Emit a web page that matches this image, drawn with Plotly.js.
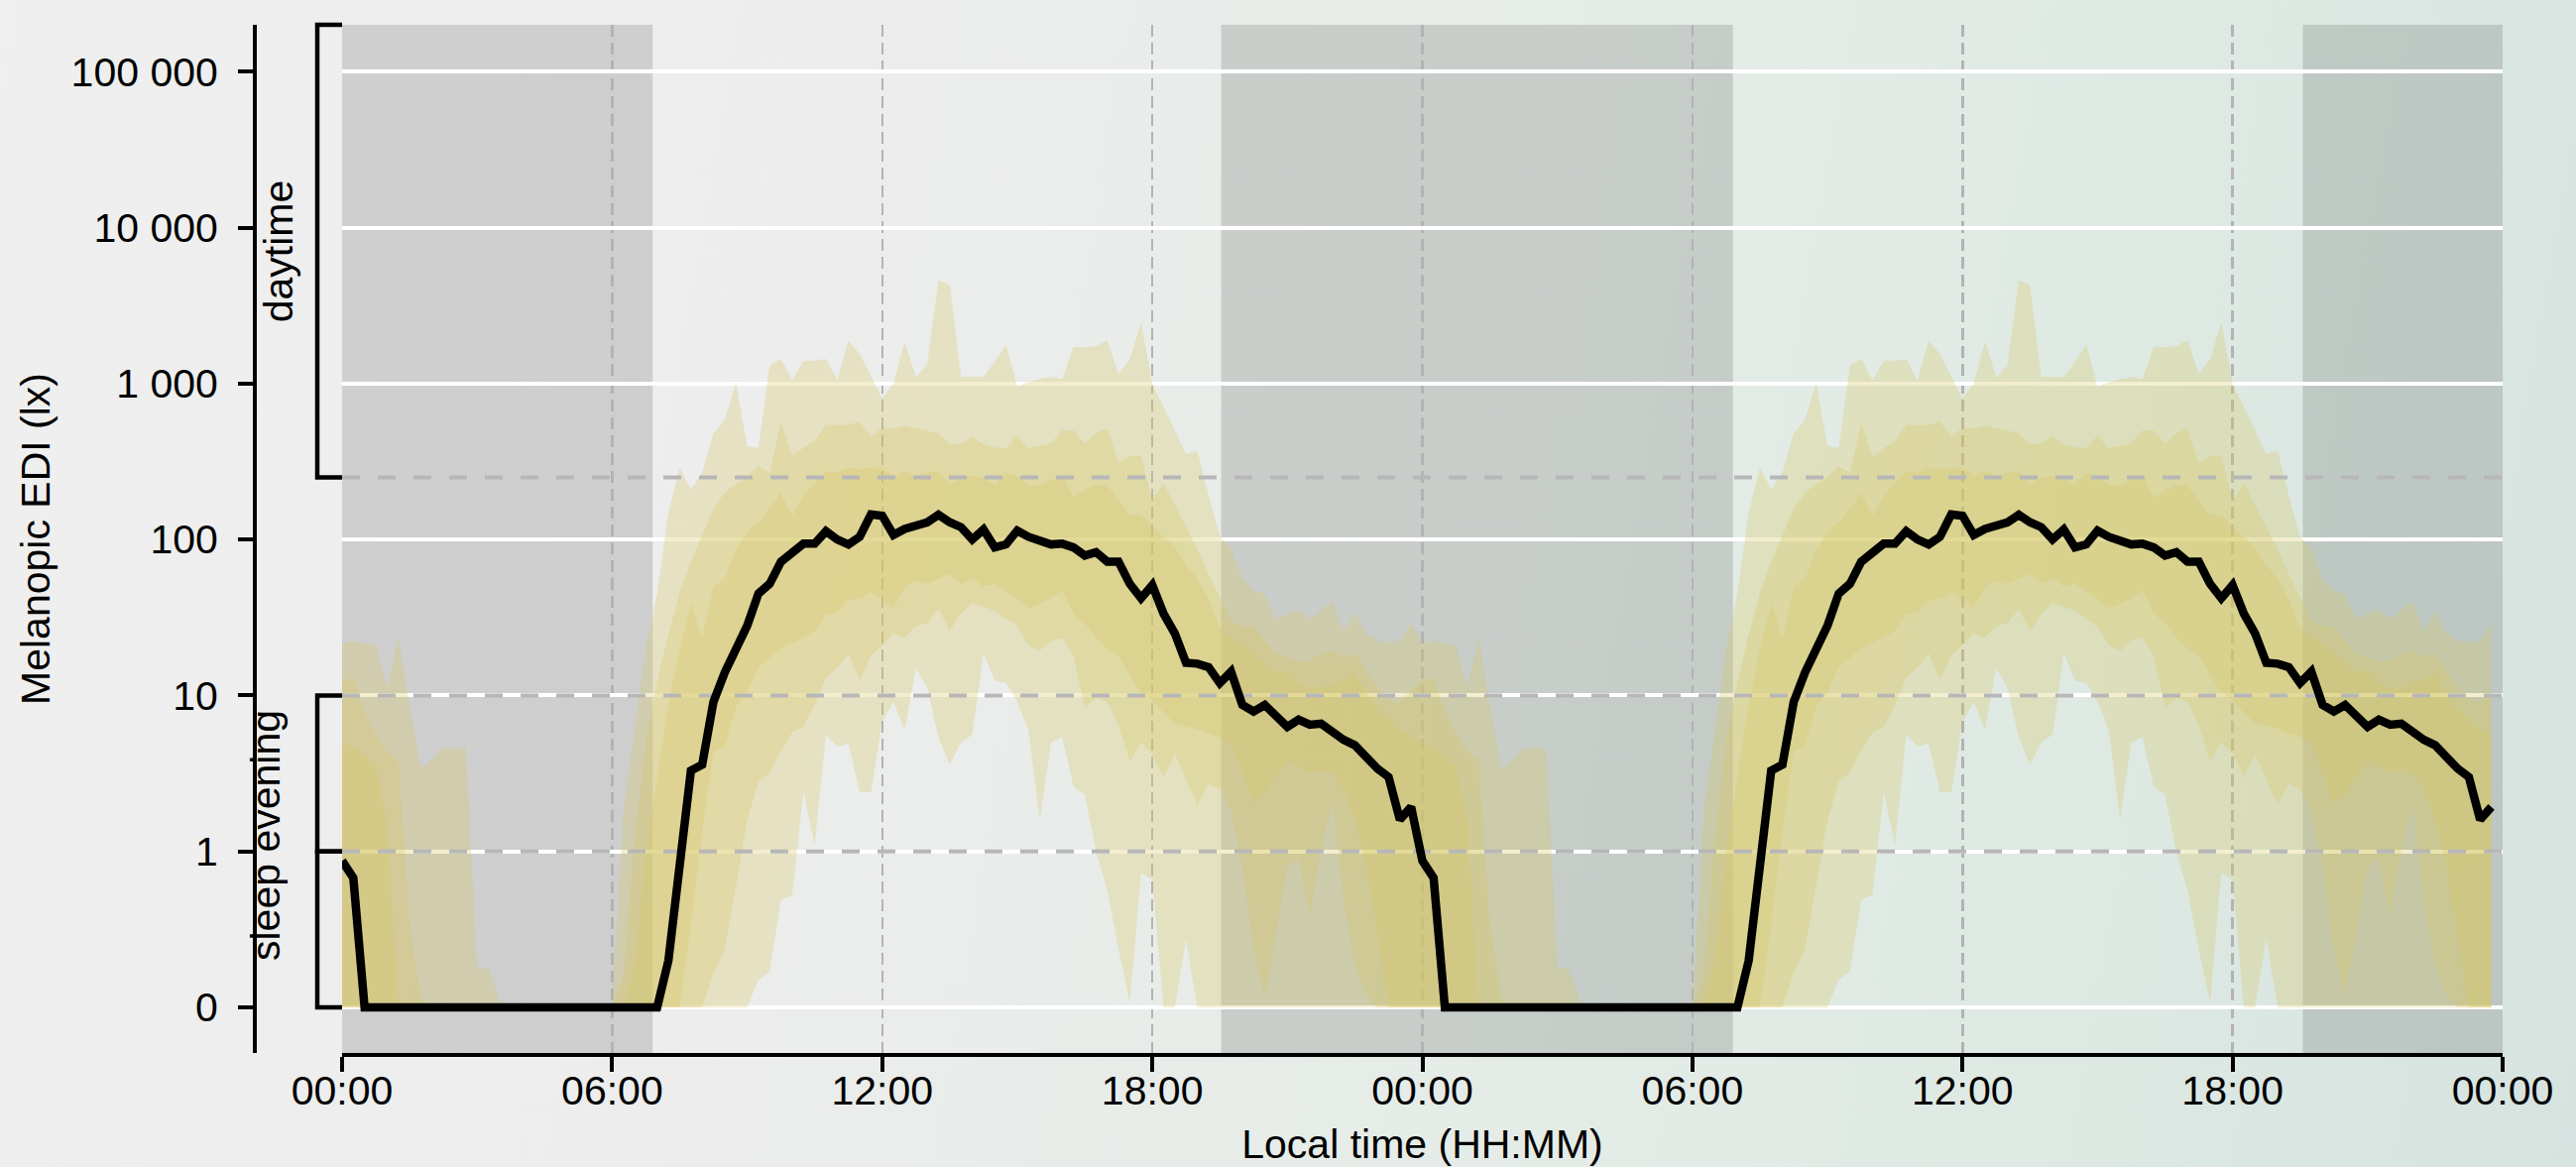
<!DOCTYPE html>
<html>
<head>
<meta charset="utf-8">
<script src="https://cdn.plot.ly/plotly-3.0.1.min.js"></script>
<style>
  html, body { margin: 0; padding: 0; width: 2598px; height: 1177px; overflow: hidden; }
  body { background: linear-gradient(100deg, #efefef 0%, #ecedec 30%, #e5ece7 60%, #dee9e3 80%, #d6e3e0 100%); }
  #chart { width: 2598px; height: 1177px; }
</style>
</head>
<body>
<div id="chart"></div>
<script>
// ---------------- DATA (melanopic EDI, lx; 15-min bins, 00:00 .. 23:45) ----------------
const binMinutes = 15;
const daysShown = 2;

// median
const median = [
  0.94, 0.83, 0, 0,          // 00
  0, 0, 0, 0,                // 01
  0, 0, 0, 0,                // 02
  0, 0, 0, 0,                // 03
  0, 0, 0, 0,                // 04
  0, 0, 0, 0,                // 05
  0, 0, 0, 0,                // 06
  0, 0.3, 0.95, 3.3,         // 07
  3.6, 9.1, 14, 20,          // 08
  28, 45, 52, 72,            // 09
  83, 94, 94, 113,           // 10
  100, 93, 104, 145,         // 11
  142, 107, 117, 124,        // 12
  129, 144, 129, 120,        // 13
  100, 116, 89, 93,          // 14
  114, 104, 98, 93,          // 15
  94, 89, 79, 83,            // 16
  72, 72, 52, 42,            // 17
  51, 33.5, 25, 16.2,        // 18
  16, 15.2, 12, 14.2,        // 19
  8.7, 7.9, 8.7, 7.4,        // 20
  6.3, 7.0, 6.5, 6.6,        // 21
  5.8, 5.2, 4.8, 4.0,        // 22
  3.4, 3.0, 1.6, 1.93        // 23
];

// outer band upper bound
const outerHigh = [
  21.6, 22.4, 21.6, 20.9,
  11.2, 23.4, 8.7, 3.4,
  3.9, 4.6, 4.6, 4.6,
  0.25, 0.25, 0.04, 0,
  0, 0, 0, 0,
  0, 0, 0, 0,
  0, 1.8, 6, 20,
  45, 148, 288, 209,
  268, 480, 585, 1000,
  396, 387, 1310, 1440,
  1050, 1400, 1400, 1440,
  1050, 1880, 1550, 1100,
  800, 1000, 1850, 1100,
  1320, 4600, 4250, 1100,
  1100, 1100, 1380, 1780,
  955, 1025, 1070, 1100,
  1070, 1710, 1710, 1730,
  1900, 1150, 1430, 2460,
  1000, 708, 513, 355,
  372, 191, 105, 87,
  56, 47, 45, 31,
  33.5, 35.5, 31, 35.5,
  40, 26, 34, 25,
  22.4, 22, 22.4, 29
];

// middle band upper bound
const middleHigh = [
  12.5, 13, 7.8, 5.6,
  4.4, 3.8, 0.53, 0.06,
  0, 0, 0, 0,
  0, 0, 0, 0,
  0, 0, 0, 0,
  0, 0, 0, 0,
  0, 0.2, 1.2, 5,
  12.3, 24.5, 46, 72,
  107, 157, 200, 225,
  255, 296, 268, 560,
  342, 387, 426, 543,
  543, 543, 570, 458,
  518, 515, 535, 515,
  500, 480, 405, 415,
  455, 405, 390, 385,
  462, 385, 400, 415,
  500, 500, 415, 480,
  515, 310, 345, 345,
  178, 229, 166, 120,
  87, 60, 42, 30,
  28, 27.5, 22.4, 18.6,
  17.6, 16.4, 16.7, 18.6,
  19.4, 17.6, 18.6, 14.5,
  11.2, 9.3, 9.0, 10.8
];

// inner band upper bound
const innerHigh = [
  4.9, 4.7, 4.1, 3.5,
  1.5, 0, 0, 0,
  0, 0, 0, 0,
  0, 0, 0, 0,
  0, 0, 0, 0,
  0, 0, 0, 0,
  0, 0, 0.3, 1.0,
  3.0, 8.8, 20, 39,
  23.4, 50, 56, 87,
  112, 129, 157, 200,
  141, 190, 230, 275,
  268, 288, 282, 288,
  290, 257, 275, 257,
  268, 275, 224, 248,
  257, 248, 224, 268,
  257, 222, 224, 240,
  257, 186, 209, 224,
  222, 178, 144, 144,
  120, 104, 89, 69,
  56, 42, 27, 23.4,
  21.7, 18.6, 16.2, 14,
  14.5, 12, 11.2, 11.2,
  12, 12.5, 14, 10.4,
  8.4, 7.2, 6.0, 5.6
];

// inner band lower bound
const innerLow = [
  0, 0, 0, 0,
  0, 0, 0, 0,
  0, 0, 0, 0,
  0, 0, 0, 0,
  0, 0, 0, 0,
  0, 0, 0, 0,
  0, 0, 0, 0,
  0, 0, 0, 0.53,
  1.35, 4.4, 4.7, 8.4,
  10.5, 15, 17.4, 20,
  21.6, 23.4, 26, 33,
  34, 41, 42, 46,
  42, 36, 50, 54,
  52, 56, 60, 52,
  56, 50, 52, 47,
  42, 36, 39, 42,
  47, 33.5, 29, 23.4,
  20, 18, 13.5, 10.5,
  9.3, 7.8, 6.6, 6.4,
  6.1, 5.7, 5.4, 4.9,
  3.2, 2.0, 2.4, 3.0,
  3.8, 3.5, 3.2, 3.3,
  3.2, 2.5, 1.6, 0.91,
  0.48, 0, 0, 0
];

// middle band lower bound
const middleLow = [
  0, 0, 0, 0,
  0, 0, 0, 0,
  0, 0, 0, 0,
  0, 0, 0, 0,
  0, 0, 0, 0,
  0, 0, 0, 0,
  0, 0, 0, 0,
  0, 0, 0, 0,
  0, 0.22, 0.37, 0.78,
  1.58, 2.8, 3.2, 4.4,
  5.8, 6.3, 8.7, 13,
  15, 18.6, 12.5, 18,
  21, 25, 23.4, 28,
  29, 36, 26, 33.5,
  39, 37, 35, 31,
  28, 21, 19.4, 22.4,
  23.4, 18, 8.4, 9.7,
  9.1, 6.5, 3.8, 5.0,
  4.2, 3.0, 4.2, 2.9,
  2.0, 2.7, 2.5, 1.8,
  0.91, 0.38, 0.06, 0.48,
  0.91, 0.95, 0.59, 1.01,
  2.1, 0.69, 0.27, 0.08,
  0, 0, 0, 0
];

// outer band lower bound
const outerLow = [
  0, 0, 0, 0,
  0, 0, 0, 0,
  0, 0, 0, 0,
  0, 0, 0, 0,
  0, 0, 0, 0,
  0, 0, 0, 0,
  0, 0, 0, 0,
  0, 0, 0, 0,
  0, 0, 0, 0,
  0, 0.18, 0.23, 0.69,
  0.72, 2.4, 1.1, 5.6,
  4.7, 4.9, 2.4, 2.4,
  6.8, 9.1, 6.0, 15,
  11.2, 5.4, 3.6, 5.0,
  5.6, 18.6, 12.5, 12,
  9.1, 6.0, 1.6, 5.0,
  5.4, 2.6, 2.3, 1.0,
  0.75, 0.37, 0.03, 0.86,
  0.82, 0, 0, 0.44,
  0, 0, 0, 0,
  0, 0, 0, 0,
  0, 0, 0, 0,
  0, 0, 0, 0,
  0, 0, 0, 0
];

// night (grey) intervals in hours from the first midnight
const nightIntervals = [[0, 6.9], [19.53, 30.9], [43.56, 48]];
// recommendation thresholds (lx)
const thresholds = [1, 10, 250];
// y ticks (lx) and labels
const yTickValues = [0, 1, 10, 100, 1000, 10000, 100000];
const yTickLabels = ['0', '1', '10', '100', '1 000', '10 000', '100 000'];
// x ticks (hours) and labels
const xTickValues = [0, 6, 12, 18, 24, 30, 36, 42, 48];
const xTickLabels = ['00:00', '06:00', '12:00', '18:00', '00:00', '06:00', '12:00', '18:00', '00:00'];

// ---------------- helpers ----------------
// symmetric log transform: linear in [0,1], log10 above
function symlog(v) { return v <= 1 ? v : 1 + Math.log10(v); }

const hoursOfDay = median.map((_, i) => i * binMinutes / 60);
let xAll = [];
for (let d = 0; d < daysShown; d++) xAll = xAll.concat(hoursOfDay.map(h => h + 24 * d));
function repeatDays(arr) { let out = []; for (let d = 0; d < daysShown; d++) out = out.concat(arr); return out; }

const W = 2598, H = 1177;
const PX = { left: 345, right: 2524, top: 25, bottom: 1062, yAxisX: 257, bracketX: 320, daytimeX: 281, sleepX: 268, sleepY: 843 };
const xRange = [0, 48];
const yRange = [-0.292, 6.30];
const areaW = PX.right;               // margin.l = 0
const areaH = PX.bottom - PX.top;
const pxX = p => p / areaW;
const pxY = p => (PX.bottom - p) / areaH;
const tY = t => (t - yRange[0]) / (yRange[1] - yRange[0]);

const FONT = 'Liberation Sans, Arial, Helvetica, sans-serif';
const bandColor = 'rgba(214,198,100,0.3)';

function bandTrace(lo, hi, name) {
  const hiY = repeatDays(hi).map(symlog);
  const loY = repeatDays(lo).map(symlog);
  return {
    type: 'scatter', mode: 'lines', name: name,
    x: xAll.concat(xAll.slice().reverse()),
    y: hiY.concat(loY.slice().reverse()),
    fill: 'toself', fillcolor: bandColor,
    line: { width: 0, color: 'rgba(0,0,0,0)' },
    hoverinfo: 'skip', showlegend: false
  };
}

const traces = [
  bandTrace(outerLow, outerHigh, 'outer'),
  bandTrace(middleLow, middleHigh, 'middle'),
  bandTrace(innerLow, innerHigh, 'inner')
];
thresholds.forEach(v => traces.push({
  type: 'scatter', mode: 'lines', x: xRange, y: [symlog(v), symlog(v)],
  line: { color: '#b7b7b7', width: 4, dash: '18px,18px' },
  hoverinfo: 'skip', showlegend: false
}));
traces.push({
  type: 'scatter', mode: 'lines', name: 'median',
  x: xAll, y: repeatDays(median).map(symlog),
  line: { color: '#000000', width: 8.5 },
  hoverinfo: 'skip', showlegend: false
});

const shapes = nightIntervals.map(([a, b]) => ({
  type: 'rect', xref: 'x', yref: 'paper', x0: a, x1: b, y0: 0, y1: 1,
  fillcolor: 'rgba(0,0,0,0.13)', line: { width: 0 }, layer: 'between'
}));

// brackets: [low lx, high lx or null = top]
const brackets = [[250, null], [0, 1], [1, 10]];
brackets.forEach(([lo, hi]) => {
  const x0 = pxX(PX.bracketX), x1 = pxX(PX.left);
  const y0 = tY(symlog(lo)), y1 = hi === null ? 1 : tY(symlog(hi));
  shapes.push({
    type: 'path', xref: 'paper', yref: 'paper',
    path: `M ${x1} ${y0} L ${x0} ${y0} L ${x0} ${y1} L ${x1} ${y1}`,
    line: { color: '#000000', width: 4.5 }, layer: 'above'
  });
});

const annotations = [
  { text: 'daytime', xref: 'paper', yref: 'paper', x: pxX(PX.daytimeX),
    y: (tY(symlog(250)) + 1) / 2, textangle: -90, showarrow: false,
    xanchor: 'center', yanchor: 'middle', font: { family: FONT, size: 41, color: '#000' } },
  { text: 'sleep evening', xref: 'paper', yref: 'paper', x: pxX(PX.sleepX),
    y: pxY(PX.sleepY), textangle: -90, showarrow: false,
    xanchor: 'center', yanchor: 'middle', font: { family: FONT, size: 41, color: '#000' } }
];

const layout = {
  width: W, height: H,
  margin: { l: 0, r: W - PX.right, t: PX.top, b: H - PX.bottom, pad: 0 },
  paper_bgcolor: 'rgba(0,0,0,0)', plot_bgcolor: 'rgba(0,0,0,0)',
  showlegend: false,
  font: { family: FONT, size: 41, color: '#000' },
  xaxis: {
    domain: [pxX(PX.left), 1], range: xRange, autorange: false,
    tickmode: 'array', tickvals: xTickValues, ticktext: xTickLabels,
    showgrid: true, gridcolor: '#b3b3b3', gridwidth: 2.5, griddash: '12px,6px',
    zeroline: false, showline: true, linecolor: '#000', linewidth: 4,
    ticks: 'outside', ticklen: 15, tickwidth: 4, tickcolor: '#000',
    ticklabelstandoff: -16,
    tickfont: { family: FONT, size: 41, color: '#000' },
    title: { text: 'Local time (HH:MM)', font: { family: FONT, size: 41, color: '#000' }, standoff: 33 },
    automargin: false, fixedrange: true
  },
  yaxis: {
    anchor: 'free', position: pxX(PX.yAxisX), domain: [0, 1],
    range: yRange, autorange: false,
    tickmode: 'array', tickvals: yTickValues.map(symlog), ticktext: yTickLabels,
    showgrid: true, gridcolor: '#ffffff', gridwidth: 4,
    zeroline: false, showline: true, linecolor: '#000', linewidth: 4,
    ticks: 'outside', ticklen: 15, tickwidth: 4, tickcolor: '#000',
    ticklabelstandoff: 12,
    tickfont: { family: FONT, size: 41, color: '#000' },
    title: { text: 'Melanopic EDI (lx)', font: { family: FONT, size: 41, color: '#000' }, standoff: 7 },
    automargin: false, fixedrange: true
  },
  shapes: shapes,
  annotations: annotations
};

Plotly.newPlot('chart', traces, layout, { displayModeBar: false, staticPlot: true });
</script>
</body>
</html>
